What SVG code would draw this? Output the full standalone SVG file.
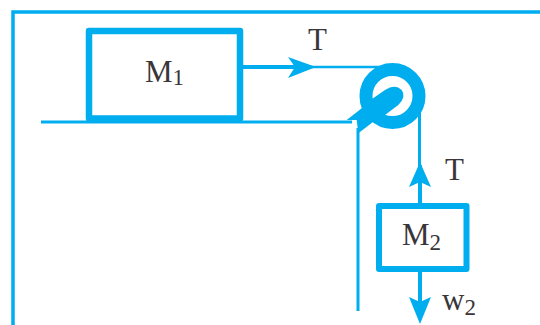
<svg xmlns="http://www.w3.org/2000/svg" width="540" height="325" viewBox="0 0 540 325">
<style>
.c{fill:#00aeef}
.l{fill:none;stroke:#00aeef;stroke-linecap:butt}
.b{fill:#fff;stroke:#00aeef;stroke-linejoin:round}
text{font-family:"Liberation Serif",serif;fill:#3a3538;font-size:31px}
tspan{font-size:23px}
</style>
<rect width="540" height="325" fill="#fff"/>
<g id="frame"><path class="l" stroke-width="3.5" d="M13 325V12H540"/></g>
<g id="connectors">
<path class="l" stroke-width="3" d="M41 122H352"/>
<path class="l" stroke-width="4" d="M242 67H300"/>
<path class="l" stroke-width="2.5" d="M300 67H380"/>
<path class="c" d="M288 57L316 67L288 78L295 67Z"/>
<path class="l" stroke-width="3" d="M358 128V311"/>
<path class="l" stroke-width="3" d="M419.5 110V165"/>
<path class="l" stroke-width="4" d="M420 165V205"/>
<path class="c" d="M420 162L431 187L420 182L409 187Z"/>
<path class="l" stroke-width="4" d="M420 271V305"/>
<path class="c" d="M409 297L420 302L431 297L420 324Z"/>
</g>
<g id="pulley">
<circle cx="392.5" cy="96" r="26.5" fill="none" stroke="#00aeef" stroke-width="13"/>
<path class="c" d="M346.7 120L361.7 108.3L371.7 99.3L385 90Q395 83.3 401.7 90Q406.7 96.7 398.3 105L385 115L373.3 121.7L358.3 133.3L356.7 120Z"/>
</g>
<g id="m1">
<rect class="b" x="89" y="31" width="151" height="87.5" stroke-width="6.5"/>
<text x="145" y="82">M<tspan dy="3">1</tspan></text>
</g>
<g id="m2">
<rect class="b" x="379" y="206" width="87.5" height="63" stroke-width="6"/>
<text x="402" y="245">M<tspan dy="5">2</tspan></text>
</g>
<g id="labels">
<text x="308" y="50">T</text>
<text x="445" y="180">T</text>
<text x="442" y="310">w<tspan dy="5">2</tspan></text>
</g>
</svg>
